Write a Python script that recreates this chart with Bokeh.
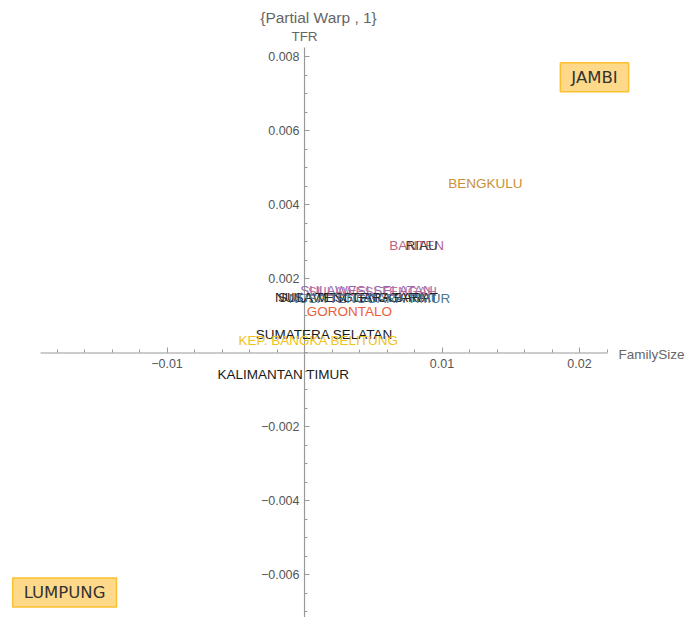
from bokeh.plotting import figure
from bokeh.models import ColumnDataSource, Range1d, FixedTicker, Label, CustomJSTickFormatter
from bokeh.core.properties import value
from bokeh.embed import file_html
from bokeh.resources import INLINE

# Partial warp scores per province (FamilySize vs TFR)
provinces = [
    "BENGKULU", "BANTEN", "RIAU",
    "SULAWESI SELATAN", "SULAWESI TENGAH",
    "NUSA TENGGARA BARAT", "SULAWESI TENGGARA", "NUSA TENGGARA TIMUR",
    "GORONTALO", "SUMATERA SELATAN", "KEP. BANGKA BELITUNG", "KALIMANTAN TIMUR",
]
family_size = [0.01316, 0.00815, 0.00851, 0.00451, 0.00495, 0.00385, 0.00349,
               0.00480, 0.00327, 0.00145, 0.00102, -0.00153]
tfr = [0.00458, 0.00291, 0.00291, 0.00169, 0.00166, 0.00150, 0.00150,
       0.00147, 0.00112, 0.00050, 0.00034, -0.00058]
label_colors = ["#C99036", "#BD6386", "#3A3A3A", "#8C6BB1", "#C46F9E", "#1E1E1E",
                "#2A2A2A", "#4C7892", "#E8603A", "#1A1A1A", "#F0C419", "#1A1A1A"]

# Provinces lying outside the plotted range, shown as boxed callouts
outlier_names = ["JAMBI", "LUMPUNG"]
outlier_x = [0.02109, -0.01745]
outlier_y = [0.00745, -0.00647]

# Plot range covered by the axis lines
x_axis_extent = [-0.0192, 0.02204]
y_axis_extent = [-0.00715, 0.008257]

x_ticks = [-0.01, 0.01, 0.02]
x_tick_labels = ["\u22120.01", "0.01", "0.02"]
y_ticks = [-0.006, -0.004, -0.002, 0.002, 0.004, 0.006, 0.008]
y_tick_labels = ["\u22120.006", "\u22120.004", "\u22120.002", "0.002", "0.004", "0.006", "0.008"]
x_minor = [round(-0.018 + 0.002 * i, 4) for i in range(21)]
y_minor = [round(-0.007 + 0.0005 * i, 5) for i in range(31)]

# The canvas is the frame; the axes sit at the origin inside it
p = figure(width=691, height=617, output_backend="svg", toolbar_location=None,
           x_range=Range1d(-0.02211, 0.028145), y_range=Range1d(-0.007149, 0.009527),
           min_border=0)
p.outline_line_color = None
p.grid.visible = False
p.background_fill_color = "white"
p.border_fill_color = "white"

fmt_code = """
for (let i = 0; i < tvals.length; i++) {
  if (Math.abs(tvals[i] - tick) < 1e-9) { return tlabels[i]; }
}
return "";
"""

axis_grey = "#9a9a9a"
for ax, ticks, labels, minor in ((p.xaxis, x_ticks, x_tick_labels, x_minor),
                                 (p.yaxis, y_ticks, y_tick_labels, y_minor)):
    ax.fixed_location = 0
    ax.ticker = FixedTicker(ticks=ticks, minor_ticks=minor)
    ax.formatter = CustomJSTickFormatter(args=dict(tvals=ticks, tlabels=labels), code=fmt_code)
    ax.axis_line_color = None
    ax.major_tick_line_color = axis_grey
    ax.minor_tick_line_color = axis_grey
    ax.major_tick_in = 5
    ax.major_tick_out = 0
    ax.minor_tick_in = 3
    ax.minor_tick_out = 0
    ax.major_label_text_font = "Liberation Sans"
    ax.major_label_text_font_size = "12.5px"
    ax.major_label_text_color = "#555555"

p.xaxis.major_label_standoff = 6
p.yaxis.major_label_standoff = 5

# Axis lines over the plotted range only
p.segment(x0=[x_axis_extent[0], 0], y0=[0, y_axis_extent[0]],
          x1=[x_axis_extent[1], 0], y1=[0, y_axis_extent[1]],
          line_color=axis_grey, line_width=1.2)

src = ColumnDataSource(dict(x=family_size, y=tfr, name=provinces, color=label_colors))
p.text(x="x", y="y", text="name", source=src, text_color="color",
       text_font=value("Liberation Sans"), text_font_size="13.5px",
       text_align="center", text_baseline="middle")

for name, ox, oy in zip(outlier_names, outlier_x, outlier_y):
    p.add_layout(Label(x=ox, y=oy, text=name, text_align="center", text_baseline="middle",
                       text_font="DejaVu Sans", text_font_size="16.5px", text_color="#333333",
                       background_fill_color="#FFD98A", border_line_color="#FBC02D",
                       border_line_width=1.5, padding=(11, 5)))

# Axis names and plot label
p.add_layout(Label(x=318, y=600, x_units="screen", y_units="screen", text="{Partial Warp , 1}",
                   text_align="center", text_baseline="middle", text_font="Liberation Sans",
                   text_font_size="15.5px", text_color="#666666"))
p.add_layout(Label(x=304, y=581, x_units="screen", y_units="screen", text="TFR",
                   text_align="center", text_baseline="middle", text_font="Liberation Sans",
                   text_font_size="13.5px", text_color="#666666"))
p.add_layout(Label(x=618, y=263, x_units="screen", y_units="screen", text="FamilySize",
                   text_align="left", text_baseline="middle", text_font="Liberation Sans",
                   text_font_size="13.5px", text_color="#666666"))

open("out.html", "w").write(file_html(p, INLINE))
